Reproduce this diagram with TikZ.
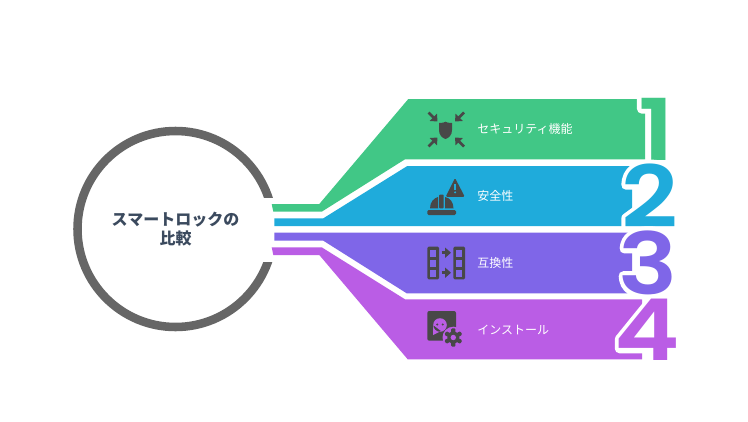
\documentclass[tikz,border=0pt]{standalone}
\usepackage{fontspec}
\usetikzlibrary{arrows.meta}
\setmainfont{Noto Sans CJK JP}
\newfontfamily\numfont[FakeStretch=1.16]{Poppins SemiBold}
\definecolor{bandgreen}{HTML}{41C786}
\definecolor{bandblue}{HTML}{1FABDB}
\definecolor{bandviolet}{HTML}{7F66E8}
\definecolor{bandpurple}{HTML}{BA5DE5}
\definecolor{ringgray}{HTML}{666666}
\definecolor{icondark}{HTML}{484848}
\definecolor{titleslate}{HTML}{3B4A5E}
\newcommand{\outlinedigit}[1]{\rlap{\special{pdf:code q 1 Tr 7 w 1 1 1 RG 1 j}#1\special{pdf:code Q}}#1}

\begin{document}
\begin{tikzpicture}[x=0.75pt,y=-0.75pt,
     ring/.style = {draw=ringgray, circle, line width=6.4pt, minimum size=147pt, inner sep=0pt},
     title/.style = {text=titleslate, font=\fontsize{12pt}{14pt}\selectfont\bfseries, align=center},
     label/.style = {text=white, font=\fontsize{9pt}{10pt}\selectfont, anchor=west, inner sep=0pt},
     digit/.style = {font=\fontsize{64pt}{64pt}\selectfont\numfont, inner sep=0pt},
     icon/.style = {fill=icondark},
     pointer/.style = {draw=icondark, line width=2.1pt, -{Triangle[length=4.4pt,width=7.4pt]}}
    ]
    \useasboundingbox (0,0) rectangle (748,421);
    \fill[white] (0,0) rectangle (748,421);

    % hub
    \node [ring] (hub) at (175.5,229) {};
    \fill[white] (262,198) rectangle (290,262);
    \node [title] (hubtitle) at (hub) {スマートロックの\\比較};

    % bands
    \fill[bandgreen] (271.7,204) -- (319.3,204) -- (408.3,99) -- (645,99) -- (645,159.3) -- (405,159.3) -- (321.7,211.7) -- (273.3,211.7) -- cycle;
    \fill[bandblue] (274.3,218.3) -- (323.3,218.3) -- (407.3,166) -- (632,166) -- (632,226) -- (274.3,226) -- cycle;
    \fill[bandviolet] (274.3,232.7) -- (632,232.7) -- (632,293.3) -- (406.7,293.3) -- (323.3,240.7) -- (274.3,240.7) -- cycle;
    \fill[bandpurple] (271.7,247.3) -- (321.7,247.3) -- (405,299.3) -- (642,299.3) -- (642,359.3) -- (407.7,359.3) -- (319.3,255) -- (273.3,255) -- cycle;

    % numbers
    \node [digit, text=bandgreen] (numone) at (656,129) {\outlinedigit{1}};
    \node [digit, text=bandblue] (numtwo) at (650,196) {\outlinedigit{2}};
    \node [digit, text=bandviolet] (numthree) at (648.5,263) {\outlinedigit{3}};
    \node [digit, text=bandpurple] (numfour) at (647.5,330) {\outlinedigit{4}};

    % labels
    \node [label] (labelsecurity) at (477,128.7) {セキュリティ機能};
    \node [label] (labelsafety) at (477,195.7) {安全性};
    \node [label] (labelcompat) at (477,262.7) {互換性};
    \node [label] (labelinstall) at (477,329.7) {インストール};

    % icon security
    \fill[icon] (439,123) .. controls (442,123) and (445,122.5) .. (445.5,121.7) .. controls (446,122.5) and (449,123) .. (452,123) -- (452,130) .. controls (452,135) and (449,138) .. (445.5,139) .. controls (442,138) and (439,135) .. (439,130) -- cycle;
    \draw[pointer] (428.5,112.5) -- (437.5,121.5);
    \draw[pointer] (464,112.5) -- (455,121.5);
    \draw[pointer] (428.5,146.5) -- (437.5,137.5);
    \draw[pointer] (464,146.5) -- (455,137.5);

    % icon safety
    \fill[icon, rounded corners=1pt] (455,178) -- (464.8,196.8) -- (445.6,196.8) -- cycle;
    \fill[bandblue] (454.2,183.5) rectangle (456,189.5);
    \fill[bandblue] (455.1,192.3) circle (1.1);
    \fill[icon, rounded corners=1pt] (427.3,210) rectangle (456,215);
    \fill[icon] (430,208.3) .. controls (430,202) and (434,198) .. (438,197) -- (438,208.3) -- cycle;
    \fill[icon, rounded corners=0.6pt] (439.2,194.5) rectangle (443.6,208.3);
    \fill[icon] (445,197) .. controls (450,198) and (453.5,202) .. (453.5,208.3) -- (445,208.3) -- cycle;

    % icon compatibility
    \foreach \colx in {427.3,453.3}{
      \fill[icon, rounded corners=1pt] (\colx,246.7) rectangle ++(11.8,32.6);
      \foreach \rowy in {249.7,259.7,269.7}
        \fill[bandviolet] (\colx+3,\rowy) rectangle ++(5.8,6.9);
    }
    \draw[pointer] (441.7,252.7) -- (451,252.7);
    \draw[pointer] (441.7,272.7) -- (451,272.7);

    % icon install
    \fill[icon, rounded corners=1.5pt] (427.3,311) rectangle (456,340.7);
    \fill[bandpurple] (440,325) circle (6.8) (433.2,325) -- (433.2,335) -- (441,331) -- cycle;
    \fill[icon] (437.3,324.5) circle (1.1) (442.7,324.5) circle (1.1);
    \fill[bandpurple] (453.3,337.5) circle (10.8);
    \foreach \ang in {0,60,...,300}
      \fill[icon, rounded corners=0.8pt, rotate around={\ang:(453.3,337.5)}] (451.2,328.3) rectangle (455.4,333);
    \fill[icon] (453.3,337.5) circle (6);
    \fill[bandpurple] (453.3,337.5) circle (2.7);
\end{tikzpicture}
\end{document}
